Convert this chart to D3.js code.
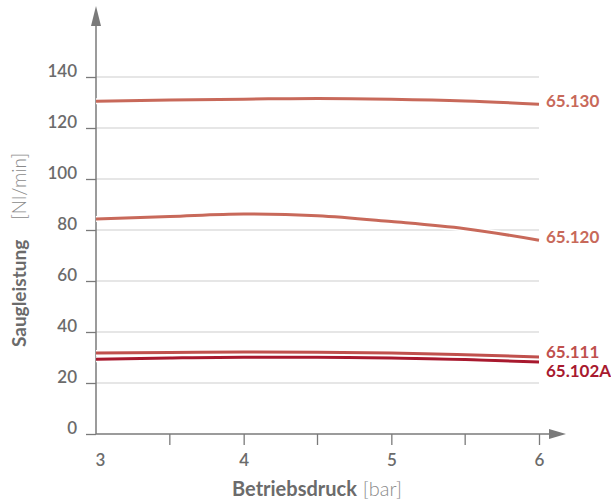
<!DOCTYPE html>
<html><head><meta charset="utf-8">
<script src="https://cdn.jsdelivr.net/npm/d3@7"></script>
<style>
html,body{margin:0;padding:0;background:#fff;}
text{font-family:Lato,"Open Sans",sans-serif;}
</style></head>
<body>
<svg id="c" width="611" height="502"></svg>
<script>
const xValues = [3, 3.5, 4, 4.5, 5, 5.5, 6];
const seriesNames = ["65.130", "65.120", "65.111", "65.102A"];
const s65130 = [130.5, 131.0, 131.3, 131.6, 131.3, 130.6, 129.3];
const s65120 = [84.3, 85.3, 86.3, 85.6, 83.3, 80.5, 76.0];
const s65111 = [31.8, 32.0, 32.2, 32.1, 31.8, 31.1, 30.2];
const s65102A = [29.3, 29.8, 30.1, 30.1, 29.8, 29.2, 28.2];
const yTicks = [0, 20, 40, 60, 80, 100, 120, 140];
const xTicks = [3, 4, 5, 6];
const xMinorTicks = [3.5, 4.5, 5.5];

const seriesValues = [s65130, s65120, s65111, s65102A];
const colors = ["#c8695a", "#c8695a", "#c0504d", "#a8192e"];
const labelDy = [-3, -3, -5, 9];

const svg = d3.select("#c");
const x = d3.scaleLinear().domain([3, 6]).range([96, 539]);
const y = d3.scaleLinear().domain([0, 140]).range([434, 77]);
const axisCol = "#7a7a7a", textCol = "#6b6b6b";

// gridlines
svg.append("g").selectAll("line").data(yTicks.filter(d => d > 0)).join("line")
  .attr("x1", x(3)).attr("x2", x(6)).attr("y1", d => y(d)).attr("y2", d => y(d))
  .attr("stroke", "#dedede").attr("stroke-width", 1.5);

// y axis
const yAxis = d3.axisLeft(y).tickValues(yTicks).tickSize(10).tickPadding(9).tickFormat(d3.format("d"));
const gy = svg.append("g").attr("transform", `translate(${x(3)},0)`).call(yAxis);
gy.select(".domain").remove();
gy.selectAll(".tick line").attr("stroke", axisCol).attr("stroke-width", 1.3);
gy.selectAll(".tick text").attr("fill", textCol).attr("font-size", 17).attr("font-weight", 600)
  .attr("dy", -1);
svg.append("line").attr("x1", x(3)).attr("x2", x(3)).attr("y1", y(0)).attr("y2", 20)
  .attr("stroke", axisCol).attr("stroke-width", 1.5);
svg.append("path").attr("d", `M${x(3)-5},26 L${x(3)},6 L${x(3)+5},26 Z`).attr("fill", axisCol);

// x axis
const xAxis = d3.axisBottom(x).tickValues(xTicks).tickSize(11).tickPadding(9).tickFormat(d3.format("d"));
const gx = svg.append("g").attr("transform", `translate(0,${y(0)})`).call(xAxis);
gx.select(".domain").remove();
gx.selectAll(".tick line").attr("stroke", axisCol).attr("stroke-width", 1.3);
gx.selectAll(".tick text").attr("fill", textCol).attr("font-size", 17).attr("font-weight", 600)
  .attr("dx", d => d === 3 ? 4 : 0);
gx.selectAll(".tick").filter(d => d === 3).select("line").remove();
svg.append("g").selectAll("line").data(xMinorTicks).join("line")
  .attr("x1", d => x(d)).attr("x2", d => x(d)).attr("y1", y(0)).attr("y2", y(0) + 11)
  .attr("stroke", axisCol).attr("stroke-width", 1.3);
svg.append("line").attr("x1", x(3)).attr("x2", 555).attr("y1", y(0)).attr("y2", y(0))
  .attr("stroke", axisCol).attr("stroke-width", 1.5);
svg.append("path").attr("d", `M549,${y(0)-5} L566,${y(0)} L549,${y(0)+5} Z`).attr("fill", axisCol);

// lines
const line = d3.line().x((d, i) => x(xValues[i])).y(d => y(d)).curve(d3.curveMonotoneX);
const order = [3, 2, 1, 0];
order.forEach(k => {
  svg.append("path").attr("d", line(seriesValues[k])).attr("fill", "none")
    .attr("stroke", "#fff").attr("stroke-width", 6);
  svg.append("path").attr("d", line(seriesValues[k])).attr("fill", "none")
    .attr("stroke", colors[k]).attr("stroke-width", 3);
});

// labels
seriesNames.forEach((n, k) => {
  const v = seriesValues[k];
  svg.append("text").attr("x", 546).attr("y", y(v[v.length - 1]) + labelDy[k])
    .attr("dy", "0.35em").attr("fill", colors[k]).attr("font-size", 17).attr("font-weight", 700)
    .text(n);
});

// axis titles
const tx = svg.append("text").attr("x", 317).attr("y", 496).attr("text-anchor", "middle")
  .attr("font-size", 20).attr("fill", textCol);
tx.append("tspan").attr("font-weight", 700).text("Betriebsdruck");
tx.append("tspan").attr("font-weight", 300).attr("fill", "#8a8a8a").attr("dx", 6).text("[bar]");

const ty = svg.append("text").attr("transform", "translate(26,250) rotate(-90)").attr("text-anchor", "middle")
  .attr("font-size", 19).attr("fill", textCol);
ty.append("tspan").attr("font-weight", 700).text("Saugleistung");
ty.append("tspan").attr("font-weight", 300).attr("fill", "#8a8a8a").attr("dx", 20).text("[Nl/min]");
</script>
</body></html>
